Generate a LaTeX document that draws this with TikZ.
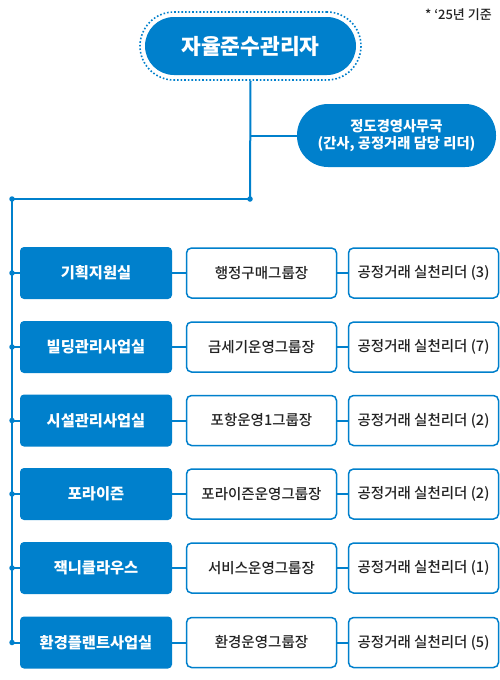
\documentclass[tikz,border=0pt]{standalone}
\usepackage{fontspec}
\setmainfont{Noto Sans CJK KR}
\newfontfamily\medfont{Noto Sans CJK KR Medium}
\usetikzlibrary{positioning}
\definecolor{brand}{RGB}{0,128,204}
\definecolor{ink}{RGB}{34,34,34}
\begin{document}
\begin{tikzpicture}[x=1pt,y=-1pt,
  conn/.style={draw=brand,line width=2pt},
  dotmark/.style={circle,fill=brand,inner sep=0pt,minimum size=5.5pt},
  deptbox/.style={fill=brand,rounded corners=4pt,minimum width=152pt,minimum height=52pt,text=white,font=\fontsize{15.3}{17}\selectfont\bfseries,inner sep=0pt},
  rolebox/.style={draw=brand,line width=1.5pt,fill=white,rounded corners=5pt,minimum width=150pt,minimum height=50pt,text=ink,font=\medfont\fontsize{14.5}{16}\selectfont,inner sep=0pt},
  leadbox/.style={rolebox,minimum width=150pt}
]
\useasboundingbox (0,0) rectangle (500,680);
\fill[white] (0,0) rectangle (500,680);

\node[font=\medfont\fontsize{13}{15}\selectfont,text=ink,anchor=east,inner sep=0pt] (note) at (492,15) {* ‘25년 기준};

\node[draw=brand,dotted,line width=1.6pt,rounded corners=34pt,minimum width=221pt,minimum height=68pt] (ring) at (250.5,46) {};
\node[fill=brand,rounded corners=29pt,minimum width=211pt,minimum height=58pt,text=white,font=\fontsize{21.5}{24}\selectfont\bfseries] (top) at (250.5,46) {자율준수관리자};

\node[fill=brand,rounded corners=31pt,minimum width=199pt,minimum height=63pt,text=white,font=\fontsize{14.3}{16.5}\selectfont\bfseries,align=center] (sec) at (396.5,135.5) {정도경영사무국\\(간사, 공정거래 담당 리더)};

\coordinate (jt) at (250,135.5);
\node[dotmark] (d0) at (250,199) {};
\node[dotmark] (d1) at (12,199) {};
\coordinate (bottom) at (12,643);

\draw[conn] (ring.south) -- (d0.center);
\draw[conn] (jt) -- (sec.west);
\draw[conn] (d0.center) -- (d1.center) -- (bottom);

\foreach \i/\y/\dept/\role/\lead in {
  1/273/기획지원실/행정구매그룹장/공정거래 실천리더 (3),
  2/347/빌딩관리사업실/금세기운영그룹장/공정거래 실천리더 (7),
  3/420.5/시설관리사업실/포항운영1그룹장/공정거래 실천리더 (2),
  4/494/포라이즌/포라이즌운영그룹장/공정거래 실천리더 (2),
  5/568/잭니클라우스/서비스운영그룹장/공정거래 실천리더 (1),
  6/642.5/환경플랜트사업실/환경운영그룹장/공정거래 실천리더 (5)} {
  \node[deptbox] (dept\i) at (96,\y) {\dept};
  \node[rolebox] (role\i) at (261.5,\y) {\role};
  \node[leadbox] (lead\i) at (423.5,\y) {\lead};
  \node[dotmark] (rd\i) at (12,\y) {};
  \draw[conn] (rd\i.center) -- (dept\i.west);
  \draw[conn] (dept\i.east) -- (role\i.west);
  \draw[conn] (role\i.east) -- (lead\i.west);
}
\end{tikzpicture}
\end{document}
